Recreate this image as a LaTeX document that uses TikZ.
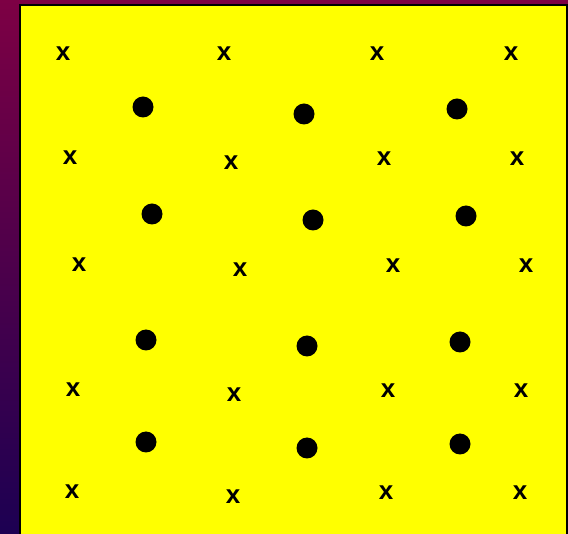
\documentclass[tikz,border=0pt]{standalone}
\usepackage{fontspec}
\setmainfont{Liberation Sans}
\usepackage{xcolor}
\usepackage{tikz}

\definecolor{bgtop}{RGB}{125,0,68}
\definecolor{bgbottom}{RGB}{28,0,82}
\definecolor{board}{RGB}{255,255,0}

\begin{document}
\begin{tikzpicture}[
        x=1pt, y=-1pt,
        cross/.style={inner sep=0pt, font=\fontsize{26}{26}\selectfont\bfseries},
        dot/.style={circle, fill=black, inner sep=0pt, minimum size=21pt}
      ]
        \useasboundingbox (0,0) rectangle (568,534);
        \shade[top color=bgtop, bottom color=bgbottom] (0,0) rectangle (568,534);
        \begin{scope}
          \clip (0,0) rectangle (568,534);
          \draw[fill=board, line width=2pt] (20,5) rectangle (567,545);
        \end{scope}
        % crosses, row by row
        \foreach \px/\py/\n in {63/54/a1, 224/54/a2, 377/54/a3, 511/54/a4,
                                70/158/b1, 231/163/b2, 384/159/b3, 517/159/b4,
                                79/265/c1, 240/270/c2, 393/266/c3, 526/266/c4,
                                73/390/d1, 234/395/d2, 388/391/d3, 521/391/d4,
                                72/492/e1, 233/497/e2, 386/493/e3, 520/493/e4}
          \node[cross] (x\n) at (\px,\py) {x};
        % dots between the rows
        \foreach \px/\py/\n in {143/107/a1, 304/114/a2, 457/109/a3,
                                152/214/b1, 313/220/b2, 466/216/b3,
                                146/340/c1, 307/346/c2, 460/342/c3,
                                146/442/d1, 307/448/d2, 460/444/d3}
          \node[dot] (o\n) at (\px,\py) {};
      \end{tikzpicture}
\end{document}
